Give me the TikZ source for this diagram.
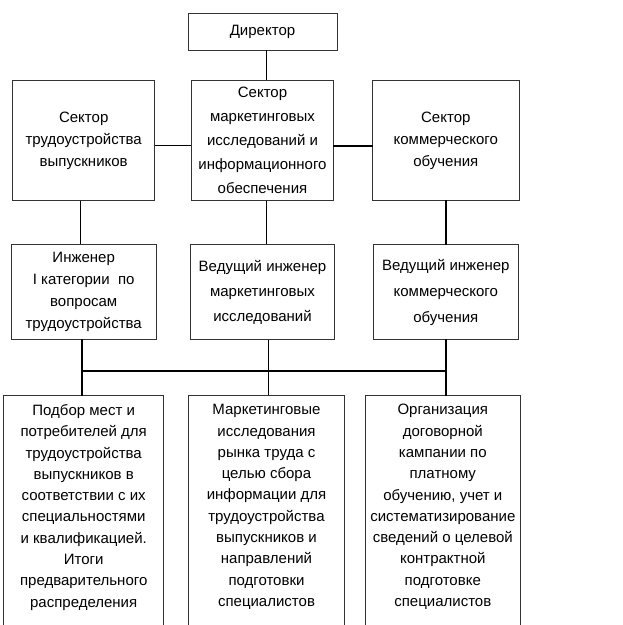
\documentclass[tikz,border=0pt]{standalone}
\usepackage{fontspec}
\setmainfont{Liberation Sans}
\usetikzlibrary{positioning}

\begin{document}
\begin{tikzpicture}%
	[x=1pt, y=1pt,
	unit/.style ={rectangle, draw=black!80, line width=0.8pt, align=center, inner sep=2pt, font=\fontsize{15}{22}\selectfont},
	task/.style = {rectangle, draw=black!80, line width=0.8pt, align=center, anchor=north, inner xsep=2pt, inner ysep=9pt, text depth=40pt, font=\fontsize{15}{21.3}\selectfont},
	link/.style = {line width=1.2pt},
	bold link/.style = {line width=2.2pt, line cap=rect}]
	\path[use as bounding box, clip] (0,0) rectangle (623,-625);
	
	\node[unit, minimum width=149pt, minimum height=37pt] (dir) at (262.5,-31.5) {Директор};
	
	\node[unit, minimum width=142pt, minimum height=120pt, font=\fontsize{15}{24}\selectfont] (smark) [below=30pt of dir] {Сектор\\маркетинговых\\исследований и\\информационного\\обеспечения};
	\node[unit, minimum width=142pt, minimum height=120pt] (strud) [left=36pt of smark] {Сектор\\трудоустройства\\выпускников};
	\node[unit, minimum width=147pt, minimum height=120pt] (scomm) [right=38pt of smark] {Сектор\\коммерческого\\обучения};
	
	\node[unit, minimum width=145pt, minimum height=95pt] (etrud) [below=43pt of strud] {Инженер\\I категории~~по\\вопросам\\трудоустройства};
	\node[unit, minimum width=144pt, minimum height=95pt, font=\fontsize{15}{25}\selectfont] (emark) [below=43pt of smark] {Ведущий инженер\\маркетинговых\\исследований};
	\node[unit, minimum width=145pt, minimum height=95pt, font=\fontsize{15}{26}\selectfont] (ecomm) [below=43pt of scomm] {Ведущий инженер\\коммерческого\\обучения};
	
	\node[task, minimum width=160pt] (ttrud) [below=55pt of etrud] {Подбор мест и\\потребителей для\\трудоустройства\\выпускников в\\соответствии с их\\специальностями\\и квалификацией.\\Итоги\\предварительного\\распределения};
	\node[task, minimum width=156pt] (tmark) [below=55pt of emark, xshift=4pt] {Маркетинговые\\исследования\\рынка труда с\\целью сбора\\информации для\\трудоустройства\\выпускников и\\направлений\\подготовки\\специалистов};
	\node[task, minimum width=155pt] (tcomm) [below=55pt of ecomm, xshift=-3pt] {Организация\\договорной\\кампании по\\платному\\обучению, учет и\\систематизирование\\сведений о целевой\\контрактной\\подготовке\\специалистов};
	
	\coordinate (bus) at (0,-371);
	
	\draw[link] ([xshift=4pt]dir.south) -- ([xshift=4pt]dir.south |- smark.north);
	\draw[link] ([yshift=-5pt]strud.east) -- ([yshift=-5pt]smark.west);
	\draw[bold link] ([yshift=-5pt]smark.east) -- ([yshift=-5pt]scomm.west);
	
	\draw[link] ([xshift=-3pt]strud.south) -- ([xshift=-3pt]etrud.north);
	\draw[link] ([xshift=4pt]smark.south) -- ([xshift=4pt]emark.north);
	\draw[bold link] (scomm.south) -- (ecomm.north);
	
	\draw[bold link] ([xshift=-2pt]etrud.south) -- ([xshift=-2pt]etrud.south |- ttrud.north);
	\draw[link] ([xshift=6pt]emark.south) -- ([xshift=6pt]emark.south |- tmark.north);
	\draw[bold link] (ecomm.south) -- (ecomm.south |- tcomm.north);
	\draw[bold link] ([xshift=-2pt]etrud.south |- bus) -- (ecomm.south |- bus);
\end{tikzpicture}
\end{document}
